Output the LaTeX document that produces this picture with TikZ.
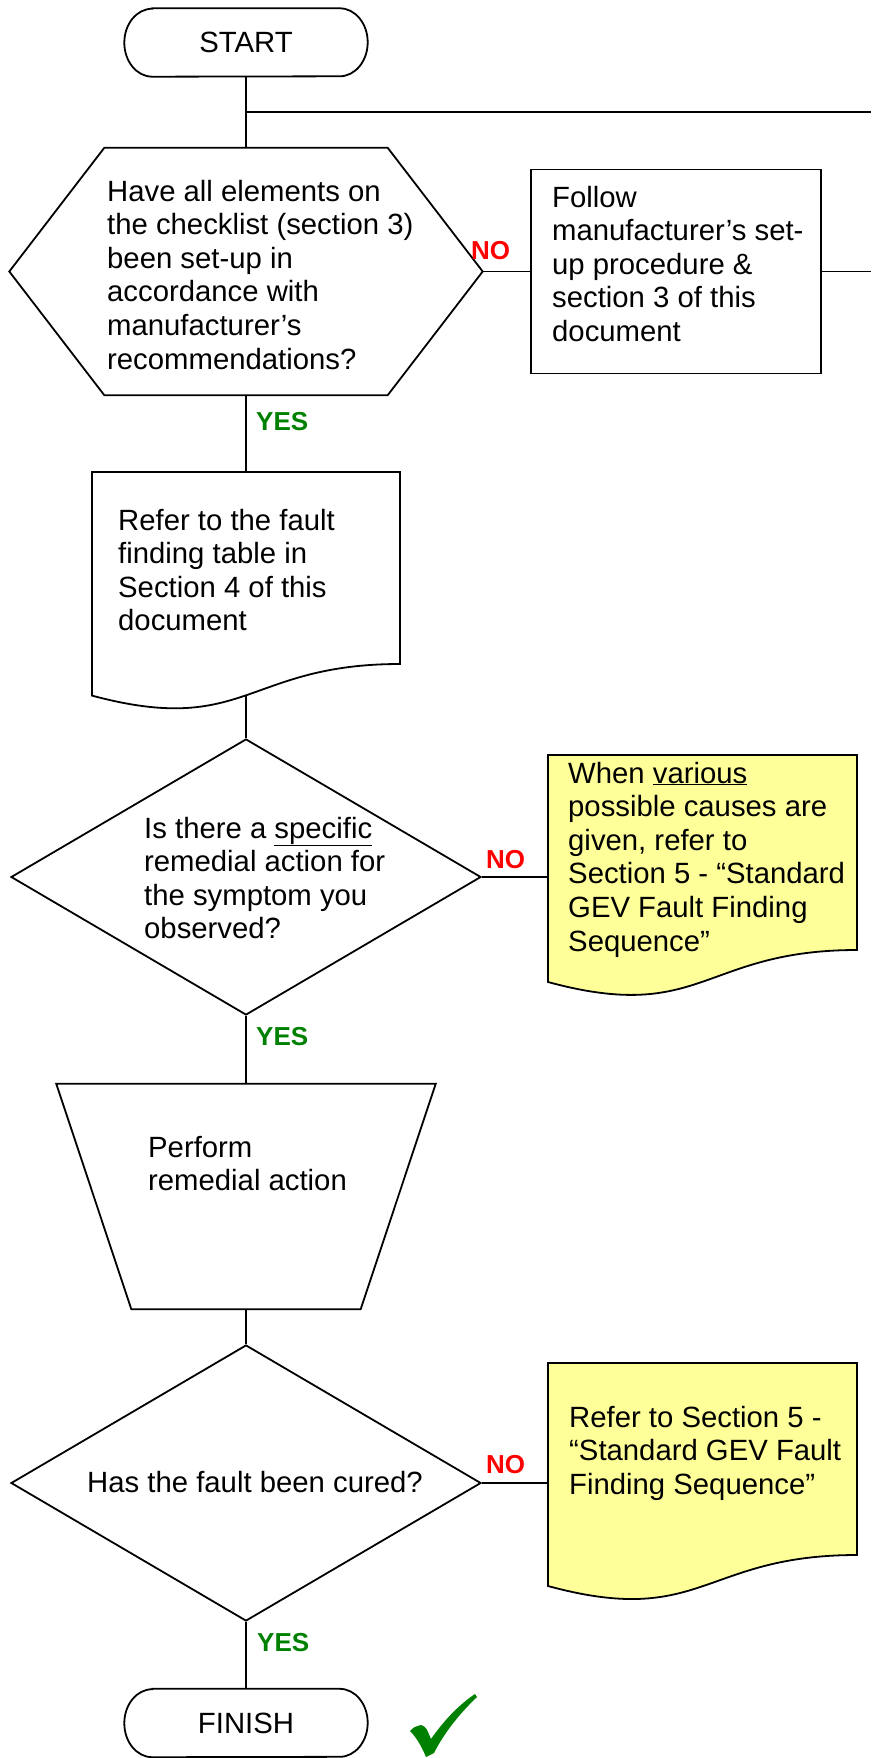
\documentclass[tikz,border=0pt]{standalone}
\usepackage{fontspec}
\setmainfont{Liberation Sans}
\usetikzlibrary{shapes.geometric}
\definecolor{noteyellow}{RGB}{255,255,153}
\definecolor{yesgreen}{RGB}{0,128,0}
\definecolor{nored}{RGB}{255,0,0}
\newcommand{\bodyfont}{\fontsize{29.3}{33.6}\selectfont}
\newcommand{\lblfont}{\fontsize{26}{30}\selectfont\bfseries}
\tikzset{
  outline/.style={draw=black, line width=1.8pt},
  box/.style={rectangle, inner sep=0pt},
  term/.style={rectangle, inner sep=0pt, minimum width=243pt, minimum height=68pt, font=\bodyfont},
  decision/.style={diamond, outline, inner sep=0pt, minimum width=470pt, minimum height=276pt},
  txt/.style={inner sep=0pt, anchor=base west, font=\bodyfont},
  yeslbl/.style={inner sep=0pt, anchor=base west, font=\lblfont, text=yesgreen},
  nolbl/.style={inner sep=0pt, anchor=base west, font=\lblfont, text=nored},
  link/.style={line width=1.8pt}
}
\begin{document}
\begin{tikzpicture}[x=1pt,y=-1pt]
\useasboundingbox (0,0) rectangle (871,1758);

% START and loop-back line
\node[term] (start) at (246,42.5) {START};
\draw[outline] ([xshift=28pt]start.north west) -- ([xshift=-28pt]start.north east) arc[start angle=-90, end angle=90, x radius=28, y radius=34] -- ([xshift=28pt]start.south west) arc[start angle=90, end angle=270, x radius=28, y radius=34] -- cycle;
\coordinate (branch) at (246,112);
\coordinate (loopR) at (871,112);

% hexagon decision
\node[box, minimum width=473pt, minimum height=247pt] (hex) at (246,271.5) {};
\draw[outline] (hex.west) -- ([xshift=95pt]hex.north west) -- ([xshift=-95pt]hex.north east) -- (hex.east) -- ([xshift=-95pt]hex.south east) -- ([xshift=95pt]hex.south west) -- cycle;
\node[txt] (hextxt) at (107,201) {\begin{tabular}[t]{@{}l@{}}Have all elements on\\ the checklist (section 3)\\ been set-up in\\ accordance with\\ manufacturer’s\\ recommendations?\end{tabular}};

% follow box
\node[box, outline, minimum width=290pt, minimum height=204pt] (follow) at (676,271.5) {};
\node[txt] (followtxt) at (552,207) {\begin{tabular}[t]{@{}l@{}}Follow\\ manufacturer’s set-\\ up procedure \&\\ section 3 of this\\ document\end{tabular}};

% document 1
\draw[outline] (92,472) -- (400,472) -- (400,664) .. controls (246,664) and (246,737) .. (92,695.6) -- cycle;
\coordinate (doc1top) at (246,472);
\coordinate (doc1bot) at (246,695.3);
\node[txt] (doc1txt) at (118,530) {\begin{tabular}[t]{@{}l@{}}Refer to the fault\\ finding table in\\ Section 4 of this\\ document\end{tabular}};

% diamond 1
\node[decision] (dia1) at (246,877) {};
\node[txt] (dia1txt) at (144,838) {\begin{tabular}[t]{@{}l@{}}Is there a \underline{specific}\\ remedial action for\\ the symptom you\\ observed?\end{tabular}};

% note 1
\draw[outline, fill=noteyellow] (548,755) -- (857,755) -- (857,950) .. controls (702.5,950) and (702.5,1024) .. (548,982) -- cycle;
\coordinate (note1in) at (548,877);
\node[txt] (note1txt) at (568,783) {\begin{tabular}[t]{@{}l@{}}When \underline{various}\\ possible causes are\\ given, refer to\\ Section 5 - “Standard\\ GEV Fault Finding\\ Sequence”\end{tabular}};

% trapezoid
\node[box, minimum width=379pt, minimum height=225pt] (perf) at (246,1196.5) {};
\draw[outline] (perf.north west) -- (perf.north east) -- ([xshift=-75pt]perf.south east) -- ([xshift=75pt]perf.south west) -- cycle;
\node[txt] (perftxt) at (148,1157) {\begin{tabular}[t]{@{}l@{}}Perform\\ remedial action\end{tabular}};

% diamond 2
\node[decision] (dia2) at (246,1483) {};
\node[txt] (dia2txt) at (87,1492) {Has the fault been cured?};

% note 2
\draw[outline, fill=noteyellow] (548,1363) -- (857,1363) -- (857,1555) .. controls (702.5,1555) and (702.5,1628) .. (548,1586) -- cycle;
\coordinate (note2in) at (548,1483);
\node[txt] (note2txt) at (569,1427) {\begin{tabular}[t]{@{}l@{}}Refer to Section 5 -\\ “Standard GEV Fault\\ Finding Sequence”\end{tabular}};

% FINISH
\node[term] (finish) at (246,1723) {FINISH};
\draw[outline] ([xshift=28pt]finish.north west) -- ([xshift=-28pt]finish.north east) arc[start angle=-90, end angle=90, x radius=28, y radius=34] -- ([xshift=28pt]finish.south west) arc[start angle=90, end angle=270, x radius=28, y radius=34] -- cycle;

% connectors
\draw[link] (start.south) -- (hex.north);
\draw[link] (branch) -- (loopR);
\draw[link] (hex.east) -- (follow.west);
\draw[link] (follow.east) -- (follow.east -| loopR);
\draw[link] (hex.south) -- (doc1top);
\draw[link] (doc1bot) -- (dia1.north);
\draw[link] (dia1.east) -- (note1in);
\draw[link] (dia1.south) -- (perf.north);
\draw[link] (perf.south) -- (dia2.north);
\draw[link] (dia2.east) -- (note2in);
\draw[link] (dia2.south) -- (finish.north);

% labels
\node[nolbl] (no1) at (471,259) {NO};
\node[nolbl] (no2) at (486,868) {NO};
\node[nolbl] (no3) at (486,1473) {NO};
\node[yeslbl] (yes1) at (256,430) {YES};
\node[yeslbl] (yes2) at (256,1045) {YES};
\node[yeslbl] (yes3) at (257,1651) {YES};

% check mark
\fill[yesgreen] (410,1731) .. controls (414,1727) .. (421,1725) .. controls (426,1727) .. (431,1739) .. controls (445,1719) and (460,1704) .. (475,1694) -- (477,1697) .. controls (458,1715) and (443,1735) .. (434,1753) -- (426,1757) .. controls (421,1745) and (416,1737) .. cycle;
\end{tikzpicture}
\end{document}
